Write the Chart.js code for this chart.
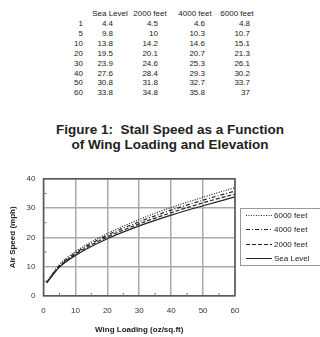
<!DOCTYPE html>
<html>
<head>
<meta charset="utf-8">
<script src="https://cdn.jsdelivr.net/npm/chart.js@4"></script>
<style>
  body { margin: 0; width: 320px; height: 337px; background: #fff; font-family: "Liberation Sans", Arial, sans-serif; color: #222; position: relative; overflow: hidden; }
  #tbl { position: absolute; left: 0; top: 0; width: 320px; height: 100px; font-size: 8px; }
  #tbl div { position: absolute; line-height: 10px; white-space: nowrap; }
  #title { position: absolute; left: 10px; top: 122px; width: 320px; text-align: center; font-weight: bold; font-size: 13.5px; line-height: 15px; }
  #wrap { position: absolute; left: 0; top: 166px; width: 320px; height: 171px; }
</style>
</head>
<body>
<div id="tbl"></div>
<div id="title">Figure 1:&nbsp; Stall Speed as a Function<br>of Wing Loading and Elevation</div>
<div id="wrap"><canvas id="myChart"></canvas></div>
<script>
// wing loading (oz/sq.ft) and stall speeds (mph)
const loading = [1, 5, 10, 20, 30, 40, 50, 60];
const seaLevel = [4.4, 9.8, 13.8, 19.5, 23.9, 27.6, 30.8, 33.8];
const ft2000 = [4.5, 10, 14.2, 20.1, 24.6, 28.4, 31.8, 34.8];
const ft4000 = [4.6, 10.3, 14.6, 20.7, 25.3, 29.3, 32.7, 35.8];
const ft6000 = [4.8, 10.7, 15.1, 21.3, 26.1, 30.2, 33.7, 37];
const seriesNames = ['Sea Level', '2000 feet', '4000 feet', '6000 feet'];
const xTicks = [0, 10, 20, 30, 40, 50, 60];
const yTicks = [0, 10, 20, 30, 40];

// table above the chart (right edges of value columns, header centres)
const tbl = document.getElementById('tbl');
const valRight = [83, 113, 158, 205, 250];
const headCenter = [110, 150, 195, 237];
function cell(txt, x, y, align) {
  const d = document.createElement('div');
  d.textContent = txt;
  d.style.top = y + 'px';
  if (align === 'right') { d.style.right = (320 - x) + 'px'; }
  else { d.style.left = (x - 30) + 'px'; d.style.width = '60px'; d.style.textAlign = 'center'; }
  tbl.appendChild(d);
}
seriesNames.forEach((n, i) => cell(n, headCenter[i], 9, 'center'));
const cols = [seaLevel, ft2000, ft4000, ft6000];
for (let i = 0; i < loading.length; i++) {
  const y = 19 + i * 9.9;
  cell(loading[i], valRight[0], y, 'right');
  cols.forEach((c, j) => cell(c[i], valRight[j + 1], y, 'right'));
}

function pts(ys) {
  return loading.map((x, i) => ({ x: x, y: ys[i] }));
}

const lineCol = '#222';
const datasets = [
  { label: 'Sea Level', data: pts(seaLevel), borderDash: [] },
  { label: '2000 feet', data: pts(ft2000), borderDash: [4, 2] },
  { label: '4000 feet', data: pts(ft4000), borderDash: [4, 2, 1, 2] },
  { label: '6000 feet', data: pts(ft6000), borderDash: [1, 1.5] }
].map(d => Object.assign(d, {
  borderColor: lineCol, borderWidth: 1.2, pointRadius: 0, fill: false,
  cubicInterpolationMode: 'monotone'
}));

// frame around plot, minor ticks, legend box on the right
const boxPlugin = {
  id: 'boxPlugin',
  afterDraw(chart) {
    const c = chart.ctx, a = chart.chartArea;
    c.save();
    c.strokeStyle = '#555';
    c.lineWidth = 1.5;
    c.strokeRect(a.left, a.top, a.right - a.left, a.bottom - a.top);
    c.lineWidth = 1;
    c.strokeStyle = '#777';
    const xs = chart.scales.x, ys = chart.scales.y;
    for (let v = 5; v < 60; v += 10) {
      const px = xs.getPixelForValue(v);
      c.beginPath(); c.moveTo(px, a.bottom); c.lineTo(px, a.bottom - 3); c.stroke();
    }
    for (let v = 5; v < 40; v += 10) {
      const py = ys.getPixelForValue(v);
      c.beginPath(); c.moveTo(a.left, py); c.lineTo(a.left + 3, py); c.stroke();
    }
    // legend
    const lx = 240, ly = 42, lh = 14.3;
    c.strokeStyle = '#999';
    c.lineWidth = 1;
    c.strokeRect(lx + 0.5, ly + 0.5, 100, 57);
    const order = [3, 2, 1, 0];
    c.font = '8px "Liberation Sans", Arial, sans-serif';
    c.fillStyle = '#222';
    c.textBaseline = 'middle';
    order.forEach((di, k) => {
      const ds = chart.data.datasets[di];
      const y = Math.round(ly + 7 + k * lh) + 0.5;
      c.strokeStyle = lineCol;
      c.setLineDash(ds.borderDash);
      c.beginPath(); c.moveTo(lx + 6, y); c.lineTo(lx + 32, y); c.stroke();
      c.setLineDash([]);
      c.fillText(ds.label, lx + 34, y);
    });
    c.restore();
  }
};

const ctx = document.getElementById('myChart').getContext('2d');
const myChart = new Chart(ctx, {
  type: 'line',
  data: { datasets: datasets },
  options: {
    responsive: true,
    maintainAspectRatio: false,
    animation: false,
    layout: { padding: { top: 9, right: 85, left: 8, bottom: 2 } },
    plugins: { legend: { display: false }, tooltip: { enabled: false } },
    scales: {
      x: {
        type: 'linear', min: 0, max: 60,
        afterBuildTicks: s => { s.ticks = xTicks.map(v => ({ value: v })); },
        grid: { color: '#aaa', lineWidth: 1.5, drawTicks: false },
        border: { display: false },
        ticks: { font: { size: 8 }, color: '#333', padding: 10 },
        title: { display: true, text: 'Wing Loading (oz/sq.ft)', font: { size: 8, weight: 'bold' }, color: '#222', padding: { top: 0, bottom: 0 } }
      },
      y: {
        min: 0, max: 40,
        afterBuildTicks: s => { s.ticks = yTicks.map(v => ({ value: v })); },
        grid: { color: '#aaa', lineWidth: 1.5, drawTicks: false },
        border: { display: false },
        ticks: { font: { size: 8 }, color: '#333', padding: 8 },
        title: { display: true, text: 'Air Speed (mph)', font: { size: 8, weight: 'bold' }, color: '#222', padding: { top: 0, bottom: 1 } }
      }
    }
  },
  plugins: [boxPlugin]
});
</script>
</body>
</html>
